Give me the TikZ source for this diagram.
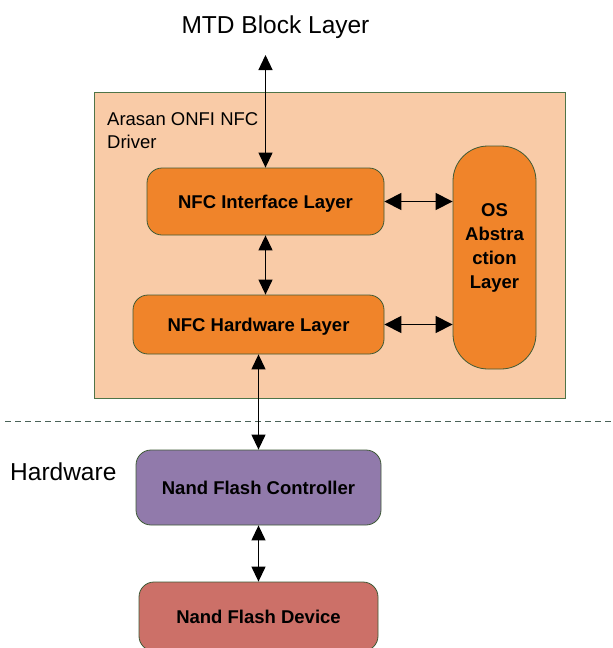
\documentclass[tikz,border=0pt]{standalone}
\usepackage{fontspec}
\setmainfont{Liberation Sans}
\usetikzlibrary{arrows.meta}
\definecolor{peach}{HTML}{F9CBA7}
\definecolor{orangebox}{HTML}{F0842A}
\definecolor{purplebox}{HTML}{917AAB}
\definecolor{redbox}{HTML}{CC7068}
\definecolor{boxline}{HTML}{3E5A36}
\definecolor{drvline}{HTML}{4F7448}
\definecolor{dashline}{HTML}{4A6358}
\begin{document}
\begin{tikzpicture}[x=1pt,y=-1pt,
  box/.style={draw=boxline, line width=0.8pt, rounded corners=15pt,
    font=\fontsize{18.5}{22}\selectfont\bfseries,
    text height=13.2pt, text depth=0pt, inner sep=0pt},
  dbl/.style={{Triangle[width=14pt,length=15pt]}-{Triangle[width=14pt,length=15pt]}, line width=1.2pt},
  dblwide/.style={{Triangle[width=17pt,length=17pt]}-{Triangle[width=17pt,length=17pt]}, line width=1.2pt},
  plaintext/.style={font=\fontsize{24.5}{28}\selectfont, inner sep=0pt}]
\useasboundingbox (0,0) rectangle (613,648);

% driver region
\node[draw=drvline, line width=0.9pt, fill=peach, minimum width=471pt, minimum height=306pt,
      inner sep=0pt, anchor=north west] (drv) at (94,92) {};
\node[font=\fontsize{18.5}{22.3}\selectfont, align=left, inner sep=0pt, anchor=north west]
      (drvlabel) at (107,112.8) {Arasan ONFI NFC\\Driver};

% titles
\node[plaintext, anchor=base] (mtd) at (275.5,33.3) {MTD Block Layer};
\node[plaintext, anchor=base west] (hwlabel) at (10,480) {Hardware};

% boxes
\node[box, fill=orangebox, minimum width=237pt, minimum height=67pt] (iface) at (265.5,201.5) {NFC Interface Layer};
\node[box, fill=orangebox, minimum width=251pt, minimum height=59pt] (hw) at (258.5,324.5) {NFC Hardware Layer};
\node[box, fill=orangebox, rounded corners=35pt, minimum width=83pt, minimum height=223pt] (os) at (494.5,257.5) {};
\node[font=\fontsize{18.5}{24}\selectfont\bfseries, align=center, inner sep=0pt, anchor=north]
      (ostext) at (494.5,203) {OS\\Abstra\\ction\\Layer};
\node[box, fill=purplebox, minimum width=245pt, minimum height=75pt] (ctrl) at (258.5,487.5) {Nand Flash Controller};
\node[box, fill=redbox, minimum width=239pt, minimum height=69pt] (dev) at (258.5,616.5) {Nand Flash Device};

% dashed separator
\coordinate (dl) at (5,421);
\coordinate (dr) at (613,421);
\draw[dashline, line width=0.8pt, dash pattern=on 6pt off 4pt] (dl) -- (dr);

% connectors
\coordinate (mtdend) at (265.5,55);
\draw[dbl] (mtdend) -- (iface.north);
\draw[dbl] (iface.south) -- (iface.south |- hw.north);
\draw[dblwide] (iface.east) -- (iface.east -| os.west);
\draw[dblwide] (hw.east) -- (hw.east -| os.west);
\draw[dbl] (hw.south) -- (ctrl.north);
\draw[dbl] (ctrl.south) -- (dev.north);
\end{tikzpicture}
\end{document}
